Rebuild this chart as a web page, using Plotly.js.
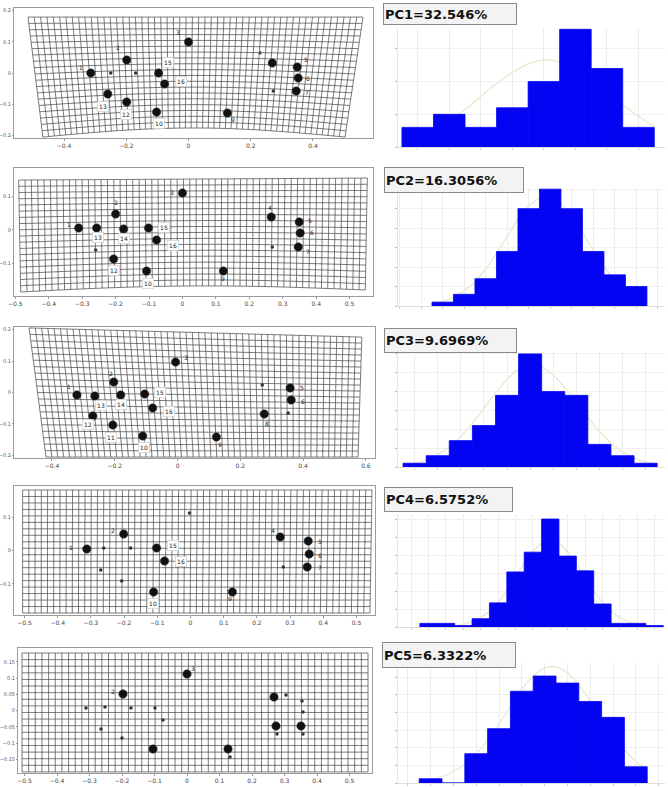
<!DOCTYPE html>
<html><head><meta charset="utf-8">
<script src="https://cdn.plot.ly/plotly-3.0.1.min.js"></script>
<style>html,body{margin:0;padding:0;background:#fff}#chart{width:668px;height:787px}</style>
</head><body><div id="chart"></div>
<script>
// ================= DATA =================
const pcLabels = ["PC1=32.546%", "PC2=16.3056%", "PC3=9.6969%", "PC4=6.5752%", "PC5=6.3322%"];

// histogram heights (bins left to right)
const hist1 = [3, 5, 3, 6, 10, 18, 12, 3];
const hist2 = [1, 3, 7, 14, 25, 30, 25, 14, 8, 5];
const hist3 = [1, 3, 7, 11, 19, 30, 20, 19, 6, 3, 1];
const hist4 = [1, 1, 0.4, 2.3, 6.7, 15.3, 20.8, 30, 19.7, 15.6, 6.4, 1, 1, 0.4];
const hist5 = [1.2, 0, 8.3, 15.4, 26, 30.3, 28.3, 23.1, 18.6, 4.6];

// fitted normal curves, read at half-bin steps
const curve1X = [0.5,1,1.5,2,2.5,3,3.5,4,4.5,5,5.5,6,6.5,7,7.5,8,8.5];
const curve1Y = [0.9,1.6,2.6,4.0,5.7,7.7,9.7,11.4,12.7,13.3,13.0,12.0,10.4,8.5,6.5,4.7,3.1];
const curve2X = [0.5,1,1.5,2,2.5,3,3.5,4,4.5,5,5.5,6,6.5,7,7.5,8,8.5,9,9.5,10,10.5];
const curve2Y = [0.6,1.1,2.2,3.8,6.2,9.5,13.5,17.9,22.2,25.6,27.7,27.8,26.2,22.9,18.8,14.3,10.2,6.8,4.2,2.4,1.3];
const curve3X = [0.5,1,1.5,2,2.5,3,3.5,4,4.5,5,5.5,6,6.5,7,7.5,8,8.5,9,9.5,10,10.5,11,11.5];
const curve3Y = [0.5,1.0,1.9,3.3,5.3,8.1,11.6,15.6,19.6,23.2,25.8,27.0,26.5,24.4,21.1,17.2,13.1,9.5,6.4,4.0,2.4,1.35,0.7];
const curve4X = [0.5,1,1.5,2,2.5,3,3.5,4,4.5,5,5.5,6,6.5,7,7.5,8,8.5,9,9.5,10,10.5,11,11.5,12,12.5,13,13.5,14,14.5];
const curve4Y = [0.01,0.03,0.07,0.16,0.36,0.75,1.45,2.6,4.4,6.9,10.1,13.8,17.6,20.9,23.2,24,23.2,20.9,17.6,13.8,10.1,6.9,4.4,2.6,1.45,0.75,0.36,0.16,0.07];
const curve5X = [0.5,1,1.5,2,2.5,3,3.5,4,4.5,5,5.5,6,6.5,7,7.5,8,8.5,9,9.5,10,10.5];
const curve5Y = [0.47,0.95,1.8,3.2,5.3,8.3,12.1,16.7,21.7,26.5,30.3,32.6,32.9,31.2,27.8,23.3,18.3,13.5,9.4,6.1,3.8];

// landmarks (deformed shape, PC extremes)
const lm1X = [-0.3141,-0.1987,0.0,0.2692,0.3494,0.3526,0.3462,0.1250,-0.1026,-0.1987,-0.2596,-0.0962,-0.0769];
const lm1Y = [0.0,0.0417,0.0994,0.0321,0.0192,-0.0160,-0.0577,-0.1282,-0.1250,-0.0929,-0.0673,0.0,-0.0353];
const lm1Lab = ["1","2","3","4","5","6","7","9","10","12","13","15","16"];
const semi1X = [-0.25,-0.1699,0.2724];
const semi1Y = [0.0,0.0,-0.0577];

const lm2X = [-0.3104,-0.2,0.0,0.2657,0.3493,0.3522,0.3463,0.1224,-0.1075,-0.2060,-0.2567,-0.1761,-0.1015,-0.0776];
const lm2Y = [0.006,0.0478,0.1104,0.0388,0.0239,-0.009,-0.0507,-0.1224,-0.1224,-0.0866,0.006,0.003,0.006,-0.0299];
const lm2Lab = ["1","2","3","4","5","6","7","9","10","12","13","14","15","16"];
const semi2X = [-0.2597,0.2687];
const semi2Y = [-0.0597,-0.0507];

const lm3X = [-0.3206,-0.2032,-0.0063,0.2762,0.3587,0.3619,0.1238,-0.1111,-0.2063,-0.2698,-0.2635,-0.1810,-0.1048,-0.0794];
const lm3Y = [-0.0079,0.0333,0.0968,-0.0683,0.0143,-0.0238,-0.1413,-0.1381,-0.1032,-0.0746,-0.0111,-0.0079,-0.0048,-0.0492];
const lm3Lab = ["1","2","3","8","5","6","9","10","11","12","13","14","15","16"];
const semi3X = [0.2698,0.3524];
const semi3Y = [0.0238,-0.0651];

const lm4X = [-0.3123,-0.2012,0.2703,0.3544,0.3574,0.3514,0.1261,-0.1111,-0.1021,-0.0781];
const lm4Y = [0.0045,0.0495,0.0405,0.0285,-0.0105,-0.0495,-0.1246,-0.1246,0.0075,-0.0315];
const lm4Lab = ["1","2","4","5","6","7","9","10","15","16"];
const semi4X = [-0.003,-0.2613,-0.1802,-0.2703,-0.2072,0.2793];
const semi4Y = [0.1126,0.0075,0.0075,-0.0586,-0.0916,-0.0495];

const lm5X = [0.0,-0.1969,0.2677,0.2738,0.3508,-0.1046,0.1262];
const lm5Y = [0.1123,0.0508,0.0415,-0.0477,-0.0477,-0.1185,-0.1185];
const lm5Lab = ["3","2","","","","",""];
const semi5X = [0.3046,0.3538,0.3569,-0.3108,-0.2523,-0.1723,-0.0985,-0.0738,-0.2646,-0.2,0.2769,0.3569,0.1323];
const semi5Y = [0.0477,0.0292,-0.0046,0.0077,0.0108,0.0077,0.0077,-0.0292,-0.0569,-0.0846,-0.0723,-0.0723,-0.1431];

// ================= LAYOUT / STYLE =================
const W = 668, H = 787;
const hists = [hist1,hist2,hist3,hist4,hist5];
const curvesX = [curve1X,curve2X,curve3X,curve4X,curve5X];
const curvesY = [curve1Y,curve2Y,curve3Y,curve4Y,curve5Y];
const lmX = [lm1X,lm2X,lm3X,lm4X,lm5X];
const lmY = [lm1Y,lm2Y,lm3Y,lm4Y,lm5Y];
const lmLab = [lm1Lab,lm2Lab,lm3Lab,lm4Lab,lm5Lab];
const smX = [semi1X,semi2X,semi3X,semi4X,semi5X];
const smY = [semi1Y,semi2Y,semi3Y,semi4Y,semi5Y];

// label offsets in px [dx, dy(down)]
const labOff = [
  [[-10,-5],[-9,-12],[-11,-9],[-12,-10],[9,-7],[10,1],[11,1],[6,6],[2,11],[-1,12],[-5,12],[9,-10],[16,-3]],
  [[-10,-3],[0,-11],[-10,-1],[-1,-9],[11,-1],[12,-1],[10,5],[0,7],[1,12],[0,11],[1,10],[0,10],[15,0],[16,5]],
  [[-8,-8],[-3,-9],[10,-5],[3,9],[12,-1],[12,2],[4,7],[1,12],[-2,12],[-5,9],[6,9],[0,10],[15,-2],[16,4]],
  [[-16,-2],[-11,-4],[-7,-7],[12,0],[11,1],[13,1],[-2,7],[-1,12],[16,-3],[16,1]],
  [[6,-6],[-10,-2],[0,0],[0,0],[0,0],[0,0],[0,0]]
];

// panel frames in px [x0, x1, y0, y1]
const leftDom = [[14,373,8,138],[14,373,168,296],[14,375,327,458],[14,375,486,615],[18,372,648,773]];
const leftXR = [[-0.561,0.593],[-0.504,0.570],[-0.521,0.629],[-0.5315,0.5556],[-0.52,0.5692]];
const leftYR = [[-0.208,0.208],[-0.197,0.185],[-0.208,0.208],[-0.1937,0.1937],[-0.1923,0.1923]];
const leftDt = [0.2,0.1,0.2,0.1,0.1];
const leftYDt = [0.1,0.1,0.1,0.1,0.05];
const gridCfg = [
  {tl:[-0.516,0.179], tr:[0.561,0.179], bl:[-0.468,-0.205], br:[0.503,-0.205], nx:53, ny:19, bow:0.029},
  {tl:[-0.49,0.149], tr:[0.553,0.155], bl:[-0.484,-0.185], br:[0.547,-0.179], nx:55, ny:18, bow:0.015},
  {tl:[-0.473,0.205], tr:[0.587,0.176], bl:[-0.419,-0.205], br:[0.575,-0.205], nx:53, ny:20, bow:0},
  {tl:[-0.5055,0.1817], tr:[0.5465,0.1817], bl:[-0.5055,-0.1877], br:[0.5405,-0.1877], nx:56, ny:19, bow:0},
  {tl:[-0.5077,0.1769], tr:[0.5569,0.1769], bl:[-0.5077,-0.189], br:[0.5569,-0.189], nx:52, ny:18, bow:0}
];
const histDom = [[398,665,28,147],[398,665,188,306],[398,665,352,467],[398,665,514,627],[398,665,663,783]];
const histXR = [[0.375,8.84],[-1.08,11.34],[0.28,11.84],[-0.76,14.6],[-0.43,11.28]];
const histYR = [[0,18.2],[0,30.3],[0,30.5],[0,31.4],[0,34]];
const boxPos = [[383,3,134,22],[384,167,140,26],[384,328,133,25],[384,487,129,25],[382,642,134,26]];

const xd = (a,b)=>[a/W, b/W];
const yd = (top,bot)=>[1-bot/H, 1-top/H];

const traces = [];
const layout = {
  width: W, height: H, autosize:false,
  margin:{l:0,r:0,t:0,b:0},
  paper_bgcolor:'#fff', plot_bgcolor:'rgba(0,0,0,0)',
  showlegend:false,
  font:{family:'DejaVu Sans, sans-serif'},
  annotations: []
};

function gridPoint(g,u,v){
  const x = (1-u)*(1-v)*g.tl[0] + u*(1-v)*g.tr[0] + (1-u)*v*g.bl[0] + u*v*g.br[0];
  let y = (1-u)*(1-v)*g.tl[1] + u*(1-v)*g.tr[1] + (1-u)*v*g.bl[1] + u*v*g.br[1];
  y += g.bow * v * Math.sin(Math.PI*u);
  return [x,y];
}

for (let p=0;p<5;p++){
  const n = p+1, hn = p+6, on = p+11;
  const xa = 'x'+n, ya = 'y'+n;
  const fr = leftDom[p];
  layout['xaxis'+n] = {domain: xd(fr[0],fr[1]), range: leftXR[p], anchor: ya,
    showline:true, mirror:true, linecolor:'#9c9c9c', linewidth:1, showgrid:false, zeroline:false,
    ticks:'outside', ticklen:2, tickcolor:'#999', tick0:0, dtick:leftDt[p],
    tickfont:{size:6,color:'#444'}, fixedrange:true};
  layout['yaxis'+n] = {domain: yd(fr[2],fr[3]), range: leftYR[p], anchor: xa,
    showline:true, mirror:true, linecolor:'#9c9c9c', linewidth:1, showgrid:false, zeroline:false,
    ticks:'outside', ticklen:1, tickcolor:'#999', tick0:0, dtick:leftYDt[p],
    tickfont:{size:5,color:'#555'}, fixedrange:true};

  // deformation grid
  const g = gridCfg[p];
  const gx=[], gy=[];
  for (let i=0;i<=g.nx;i++){
    for (let k=0;k<=20;k++){ const pt=gridPoint(g,i/g.nx,k/20); gx.push(pt[0]); gy.push(pt[1]); }
    gx.push(null); gy.push(null);
  }
  for (let j=0;j<=g.ny;j++){
    for (let k=0;k<=40;k++){ const pt=gridPoint(g,k/40,j/g.ny); gx.push(pt[0]); gy.push(pt[1]); }
    gx.push(null); gy.push(null);
  }
  traces.push({type:'scatter', mode:'lines', x:gx, y:gy, xaxis:xa, yaxis:ya,
    line:{color:'#444', width:0.7, simplify:false}, hoverinfo:'skip', connectgaps:false});

  // small points
  traces.push({type:'scatter', mode:'markers', x:smX[p], y:smY[p], xaxis:xa, yaxis:ya,
    marker:{size:3.5, color:'#333'}, hoverinfo:'skip'});
  // landmarks
  traces.push({type:'scatter', mode:'markers', x:lmX[p], y:lmY[p], xaxis:xa, yaxis:ya,
    marker:{size:8.5, color:'#111', line:{color:'#444', width:0.5}}, hoverinfo:'skip'});
  // landmark labels
  lmLab[p].forEach((t,i)=>{
    if(!t) return;
    const off = labOff[p][i];
    const boxed = t.length===2;
    layout.annotations.push({xref:xa, yref:ya, x:lmX[p][i], y:lmY[p][i], text:t, showarrow:false,
      xshift:off[0], yshift:-off[1], font:{size:6,color:'#222'},
      bgcolor: boxed ? '#fff' : 'rgba(0,0,0,0)', bordercolor: boxed ? '#c8c8c8' : 'rgba(0,0,0,0)',
      borderwidth: boxed ? 0.6 : 0, borderpad: boxed ? 1.5 : 0});
  });

  // histogram base axes (grid + curve)
  const hd = histDom[p];
  layout['xaxis'+hn] = {domain: xd(hd[0],hd[1]), range: histXR[p], anchor:'y'+hn,
    showgrid:true, gridcolor:'#ececec', zeroline:false, showline:true, linecolor:'#ddd',
    ticks:'outside', ticklen:2, tickcolor:'#ccc', tick0:0, dtick:1, showticklabels:false, fixedrange:true};
  layout['yaxis'+hn] = {domain: yd(hd[2],hd[3]), range: histYR[p], anchor:'x'+hn,
    showgrid:true, gridcolor:'#f1f1f1', zeroline:false, showline:true, linecolor:'#e4e4e4',
    ticks:'outside', ticklen:2, tickcolor:'#bbb', dtick:5, showticklabels:false, fixedrange:true};
  traces.push({type:'scatter', mode:'lines', x:curvesX[p], y:curvesY[p], xaxis:'x'+hn, yaxis:'y'+hn,
    line:{color:'rgb(236,233,212)', width:1.5, shape:'spline'}, hoverinfo:'skip'});

  // overlay axes with the bars on top of the curve
  layout['xaxis'+on] = {overlaying:'x'+hn, range: histXR[p], anchor:'y'+on, visible:false, fixedrange:true};
  layout['yaxis'+on] = {overlaying:'y'+hn, range: histYR[p], anchor:'x'+on, visible:false, fixedrange:true};
  const bx = hists[p].map((v,i)=>i+1);
  traces.push({type:'bar', x:bx, y:hists[p], width:1, xaxis:'x'+on, yaxis:'y'+on,
    marker:{color:'rgb(4,4,242)', line:{width:0.8, color:'rgb(4,4,242)'}}, hoverinfo:'skip'});

  // PC label box
  const b = boxPos[p];
  layout.annotations.push({xref:'paper', yref:'paper', x:b[0]/W, y:1-b[1]/H, xanchor:'left', yanchor:'top',
    text:'<b>'+pcLabels[p]+'</b>', showarrow:false, align:'left', valign:'middle',
    width:b[2]-4, height:b[3]-4, borderpad:1, borderwidth:1, bordercolor:'#8a8a8a', bgcolor:'#f3f3f3',
    font:{family:'DejaVu Sans, sans-serif', size:13, color:'#111'}});
}

Plotly.newPlot('chart', traces, layout, {staticPlot:true, displayModeBar:false});
</script>
</body></html>
